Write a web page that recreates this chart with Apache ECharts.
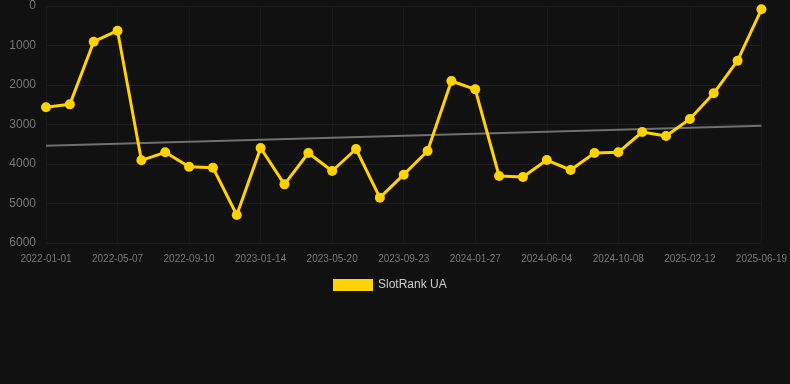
<!DOCTYPE html>
<html>
<head>
<meta charset="utf-8">
<script src="https://cdn.jsdelivr.net/npm/echarts@6/dist/echarts.min.js"></script>
<style>
  html, body { margin: 0; padding: 0; background: #111111; }
  #chart { width: 790px; height: 384px; }
</style>
</head>
<body>
<div id="chart"></div>
<script>
// dates (category axis)
var dates = [
  '2022-01-01', '2022-02-12', '2022-03-26', '2022-05-07', '2022-06-18', '2022-07-30',
  '2022-09-10', '2022-10-22', '2022-12-03', '2023-01-14', '2023-02-25', '2023-04-08',
  '2023-05-20', '2023-07-01', '2023-08-12', '2023-09-23', '2023-11-04', '2023-12-16',
  '2024-01-27', '2024-03-10', '2024-04-22', '2024-06-04', '2024-07-16', '2024-08-27',
  '2024-10-08', '2024-11-19', '2024-12-31', '2025-02-12', '2025-03-26', '2025-05-07',
  '2025-06-19'
];
// rank values
var rankUA = [
  2565, 2490, 903, 625, 3907, 3704, 4068, 4093, 5291, 3595, 4515, 3722,
  4177, 3620, 4852, 4270, 3671, 1899, 2110, 4304, 4329, 3899, 4152, 3722,
  3704, 3190, 3291, 2861, 2211, 1384, 84
];
// trend line end points
var trendEnds = [3536, 3030];
var yTicks = [0, 1000, 2000, 3000, 4000, 5000, 6000];

var trendData = [
  [dates[0], trendEnds[0]],
  [dates[dates.length - 1], trendEnds[1]]
];

var chart = echarts.init(document.getElementById('chart'));
chart.setOption({
  backgroundColor: '#111111',
  animation: false,
  grid: { left: 46, right: 28, top: 6, bottom: 141 },
  legend: {
    data: ['SlotRank UA'],
    top: 274,
    left: 328,
    itemWidth: 40,
    itemHeight: 12,
    itemGap: 6,
    icon: 'rect',
    textStyle: { color: '#cccccc', fontSize: 12, fontFamily: 'Liberation Sans, Arial, sans-serif' }
  },
  xAxis: {
    type: 'category',
    data: dates,
    boundaryGap: false,
    axisLine: { show: false },
    axisTick: { show: false },
    axisLabel: {
      interval: 2,
      color: '#777777',
      fontSize: 10,
      margin: 11,
      fontFamily: 'Liberation Sans, Arial, sans-serif'
    },
    splitLine: { show: true, interval: 2, lineStyle: { color: '#1a1a1a', width: 1 } }
  },
  yAxis: {
    type: 'value',
    inverse: true,
    min: yTicks[0],
    max: yTicks[yTicks.length - 1],
    interval: 1000,
    axisLine: { show: false },
    axisTick: { show: false },
    axisLabel: {
      color: '#777777',
      fontSize: 12,
      margin: 10,
      formatter: function (v) { return String(v); },
      fontFamily: 'Liberation Sans, Arial, sans-serif'
    },
    splitLine: { lineStyle: { color: '#1e1e1e', width: 1 } }
  },
  series: [
    {
      name: 'SlotRank UA',
      type: 'line',
      data: rankUA,
      color: '#ffd200',
      lineStyle: { width: 3, color: '#ffd200' },
      symbol: 'circle',
      symbolSize: 10,
      itemStyle: { color: '#ffd200' },
      z: 3
    },
    {
      name: 'trend',
      type: 'line',
      data: trendData,
      symbol: 'none',
      lineStyle: { width: 2, color: '#707070' },
      z: 2
    }
  ]
});
</script>
</body>
</html>
